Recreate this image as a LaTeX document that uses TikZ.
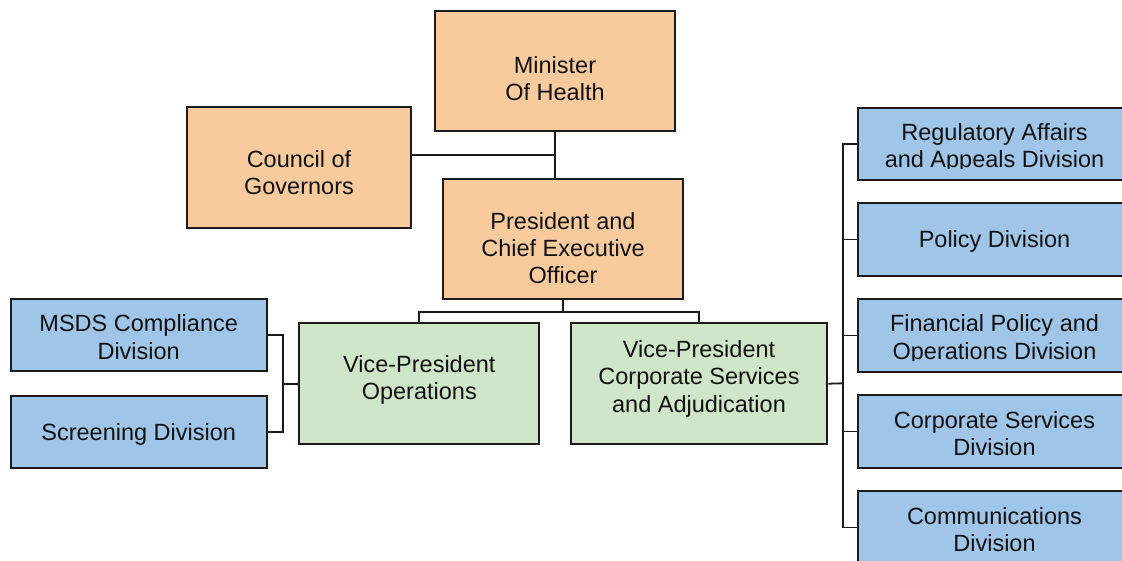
\documentclass[tikz,border=0pt]{standalone}
\usepackage{fontspec}
\setmainfont{Liberation Sans}
\definecolor{orangeF}{HTML}{F9CB9C}
\definecolor{greenF}{HTML}{D0E6C8}
\definecolor{blueF}{HTML}{9FC5E8}
\definecolor{edge}{HTML}{1A1A1A}
\definecolor{ink}{HTML}{111111}
\begin{document}
\begin{tikzpicture}[x=1pt,y=-1pt,
  box/.style={draw=edge, line width=2pt, inner sep=0pt},
  bigbox/.style={box, minimum height=120pt},
  smallbox/.style={box, minimum height=72.4pt},
  txt/.style={inner sep=0pt, align=center, text=ink, font=\fontsize{23.5}{27.3}\selectfont},
  wire/.style={draw=edge, line width=1.8pt}]
\useasboundingbox (0,0) rectangle (1122,560);
\clip (0,0) rectangle (1122,560);

% top level
\node[bigbox, fill=orangeF, minimum width=240.6pt] (min) at (555,71) {};
\node[txt] (minT) at ([yshift=-7.5pt]min.center) {Minister\\Of Health};
\node[bigbox, fill=orangeF, minimum width=224.6pt, minimum height=120.7pt] (cog) at (299,167.7) {};
\node[txt] (cogT) at ([yshift=-5pt]cog.center) {Council of\\Governors};
\node[bigbox, fill=orangeF, minimum width=240.6pt] (pres) at (563,239.2) {};
\node[txt] (presT) at ([yshift=-9pt]pres.center) {President and\\Chief Executive\\Officer};

% vice presidents
\node[bigbox, fill=greenF, minimum width=240pt, minimum height=120.7pt] (vpo) at (419.3,383.7) {};
\node[txt] (vpoT) at ([yshift=4pt]vpo.center) {Vice-President\\Operations};
\node[bigbox, fill=greenF, minimum width=256.6pt, minimum height=120.7pt] (vpc) at (699,383.7) {};
\node[txt] (vpcT) at ([yshift=5pt]vpc.center) {Vice-President\\Corporate Services\\and Adjudication};

% left divisions
\node[smallbox, fill=blueF, minimum width=256pt] (msds) at (138.7,335.2) {};
\node[txt] (msdsT) at ([yshift=-2pt]msds.center) {MSDS Compliance\\Division};
\node[smallbox, fill=blueF, minimum width=256pt] (scr) at (138.7,432.2) {};
\node[txt] (scrT) at ([yshift=-2.5pt]scr.center) {Screening Division};

% right divisions
\node[smallbox, fill=blueF, minimum width=272.4pt] (r1) at (994.5,143.7) {};
\node[smallbox, fill=blueF, minimum width=272.4pt] (r2) at (994.5,239.5) {};
\node[smallbox, fill=blueF, minimum width=272.4pt] (r3) at (994.5,335.5) {};
\node[smallbox, fill=blueF, minimum width=272.4pt] (r4) at (994.5,431.4) {};
\node[smallbox, fill=blueF, minimum width=272.4pt] (r5) at (994.5,527.4) {};
\begin{scope}
  \clip (r1.north west) rectangle ([yshift=12pt]r1.south east);
  \node[txt] (r1T) at ([yshift=-4.5pt]r1.center) {Regulatory Affairs\\and Appeals Division};
\end{scope}
\begin{scope}
  \clip (r2.north west) rectangle ([yshift=12pt]r2.south east);
  \node[txt] (r2T) at ([yshift=-1.5pt]r2.center) {Policy Division};
\end{scope}
\begin{scope}
  \clip (r3.north west) rectangle ([yshift=12pt]r3.south east);
  \node[txt] (r3T) at ([yshift=-4pt]r3.center) {Financial Policy and\\Operations Division};
\end{scope}
\begin{scope}
  \clip (r4.north west) rectangle ([yshift=12pt]r4.south east);
  \node[txt] (r4T) at ([yshift=-2pt]r4.center) {Corporate Services\\Division};
\end{scope}
\begin{scope}
  \clip (r5.north west) rectangle ([yshift=12pt]r5.south east);
  \node[txt] (r5T) at ([yshift=-2pt]r5.center) {Communications\\Division};
\end{scope}

% connectors
\coordinate (j1) at (555,155);
\draw[wire] (min.south) -- (min.south |- pres.north);
\draw[wire] (cog.east |- j1) -- (j1);
\coordinate (bus) at (563,311.7);
\draw[wire] (pres.south) -- (bus);
\draw[wire] (vpo.north) |- (bus) -| (vpc.north);
\coordinate (lb) at (283.3,384);
\draw[wire] (msds.east) -| (lb) |- (scr.east);
\draw[wire] (lb) -- (vpo.west |- lb);
\coordinate (rb) at (842.7,383.3);
\draw[wire] (vpc.east) -- (rb);
\draw[wire] (r1.west) -| (rb) |- (r5.west);
\foreach \r in {r2,r3,r4} {\draw[wire] (\r.west) -- (\r.west -| rb);}
\end{tikzpicture}
\end{document}
